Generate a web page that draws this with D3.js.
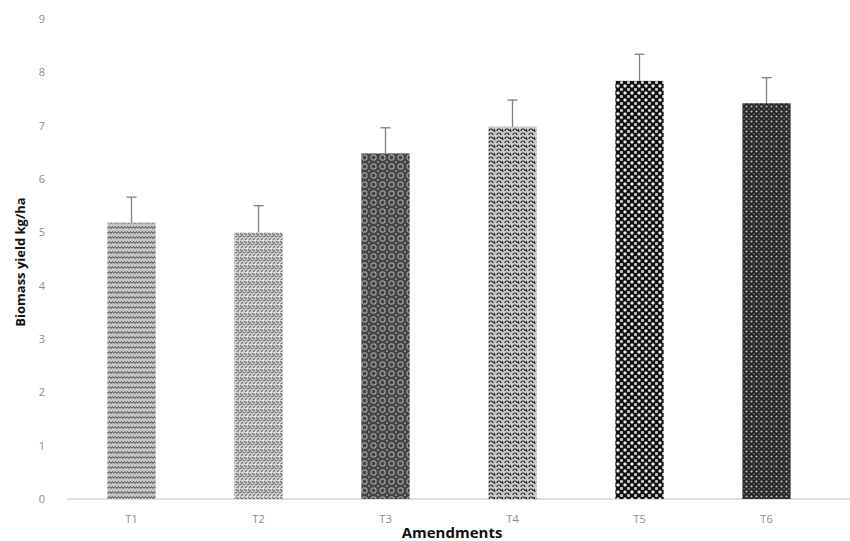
<!DOCTYPE html>
<html>
<head>
<meta charset="utf-8">
<script src="https://cdn.jsdelivr.net/npm/d3@7"></script>
<style>
  body { margin: 0; background: #fff; }
  text { font-family: "Open Sans", "Liberation Sans", sans-serif; }
</style>
</head>
<body>
<div id="chart"></div>
<script>
// Data
const categories = ["T1", "T2", "T3", "T4", "T5", "T6"];
const values = [5.18, 5.0, 6.48, 6.98, 7.84, 7.42];
const errors = [0.48, 0.5, 0.48, 0.5, 0.5, 0.48];
const yTicks = [0, 1, 2, 3, 4, 5, 6, 7, 8, 9];

const chartWidth = 850;
const chartHeight = 541;
const plotLeft = 68, plotRight = 830, plotTop = 19, plotBottom = 499;

const svg = d3.select("#chart")
    .append("svg")
    .attr("width", chartWidth)
    .attr("height", chartHeight);

// fill patterns, one per bar
const defs = svg.append("defs");

// T1: grey waves
let p = defs.append("pattern").attr("id", "p0").attr("patternUnits", "userSpaceOnUse")
    .attr("width", 6).attr("height", 5);
p.append("rect").attr("width", 6).attr("height", 5).attr("fill", "#c4c4c4");
p.append("path").attr("d", "M0,3.5 L1.5,1.5 L3,3.5 L4.5,1.5 L6,3.5").attr("fill", "none")
    .attr("stroke", "#4a4a4a").attr("stroke-width", 1);

// T2: diagonal shingles
p = defs.append("pattern").attr("id", "p1").attr("patternUnits", "userSpaceOnUse")
    .attr("width", 8).attr("height", 8);
p.append("rect").attr("width", 8).attr("height", 8).attr("fill", "#dcdcdc");
p.append("path").attr("d", "M0,1 L4,5 M4,1 L8,5 M0,5 L3,2 M4,5 L7,2 M0,9 L3,6 M4,9 L7,6")
    .attr("stroke", "#6e6e6e").attr("stroke-width", 1.2).attr("fill", "none");

// T3: dark with rings
p = defs.append("pattern").attr("id", "p2").attr("patternUnits", "userSpaceOnUse")
    .attr("width", 9).attr("height", 9);
p.append("rect").attr("width", 9).attr("height", 9).attr("fill", "#444");
p.append("circle").attr("cx", 4.5).attr("cy", 4.5).attr("r", 2.6).attr("fill", "none")
    .attr("stroke", "#a0a0a0").attr("stroke-width", 1.2);
p.append("circle").attr("cx", 0).attr("cy", 0).attr("r", 1).attr("fill", "#999");
p.append("circle").attr("cx", 9).attr("cy", 9).attr("r", 1).attr("fill", "#999");
p.append("circle").attr("cx", 0).attr("cy", 9).attr("r", 1).attr("fill", "#999");
p.append("circle").attr("cx", 9).attr("cy", 0).attr("r", 1).attr("fill", "#999");

// T4: light with dark curls
p = defs.append("pattern").attr("id", "p3").attr("patternUnits", "userSpaceOnUse")
    .attr("width", 8).attr("height", 8);
p.append("rect").attr("width", 8).attr("height", 8).attr("fill", "#c8c8c8");
p.append("path").attr("d", "M1,3 A2,2 0 0 1 5,3 M5,7 A2,2 0 0 0 1,7 M6,1 L7,4")
    .attr("stroke", "#222").attr("stroke-width", 1.2).attr("fill", "none");

// T5: checkerboard of white dots
p = defs.append("pattern").attr("id", "p4").attr("patternUnits", "userSpaceOnUse")
    .attr("width", 7).attr("height", 7);
p.append("rect").attr("width", 7).attr("height", 7).attr("fill", "#111");
p.append("rect").attr("x", 0.5).attr("y", 0.5).attr("width", 3).attr("height", 3)
    .attr("rx", 1).attr("fill", "#f0f0f0");
p.append("rect").attr("x", 4).attr("y", 4).attr("width", 3).attr("height", 3)
    .attr("rx", 1).attr("fill", "#c4c4c4");

// T6: dark with small white dots
p = defs.append("pattern").attr("id", "p5").attr("patternUnits", "userSpaceOnUse")
    .attr("width", 5).attr("height", 5);
p.append("rect").attr("width", 5).attr("height", 5).attr("fill", "#262626");
p.append("circle").attr("cx", 1.5).attr("cy", 1.5).attr("r", 1.1).attr("fill", "#bdbdbd");
p.append("circle").attr("cx", 4).attr("cy", 4).attr("r", 0.8).attr("fill", "#8a8a8a");

const xScale = d3.scaleBand()
    .domain(categories)
    .range([plotLeft, plotRight])
    .paddingInner(0.62)
    .paddingOuter(0.31);

const yScale = d3.scaleLinear()
    .domain([0, 9])
    .range([plotBottom, plotTop]);

// y axis: labels only
const yAxis = d3.axisLeft(yScale)
    .tickValues(yTicks)
    .tickSize(0)
    .tickPadding(0);

const gy = svg.append("g")
    .attr("transform", "translate(45,0)")
    .call(yAxis);
gy.select(".domain").remove();
gy.selectAll("text")
    .attr("fill", "#8c8c8c")
    .style("font-size", "11px");

// x axis
const xAxis = d3.axisBottom(xScale)
    .tickSize(0)
    .tickPadding(16);

const gx = svg.append("g")
    .attr("transform", "translate(0," + plotBottom + ")")
    .call(xAxis);
gx.select(".domain").remove();
gx.append("line")
    .attr("x1", plotLeft - 1)
    .attr("x2", chartWidth)
    .attr("stroke", "#bfbfbf")
    .attr("stroke-width", 1.2);
gx.selectAll("text")
    .attr("fill", "#8c8c8c")
    .style("font-size", "11px");

// bars
svg.selectAll(".bar")
    .data(values)
    .enter()
    .append("rect")
    .attr("class", "bar")
    .attr("x", (d, i) => xScale(categories[i]))
    .attr("y", d => yScale(d))
    .attr("width", xScale.bandwidth())
    .attr("height", d => plotBottom - yScale(d))
    .attr("fill", (d, i) => "url(#p" + i + ")");

// error bars (upper only)
const err = svg.selectAll(".err")
    .data(values)
    .enter()
    .append("g")
    .attr("class", "err")
    .attr("stroke", "#7f7f7f")
    .attr("stroke-width", 1.3);

err.append("line")
    .attr("x1", (d, i) => xScale(categories[i]) + xScale.bandwidth() / 2)
    .attr("x2", (d, i) => xScale(categories[i]) + xScale.bandwidth() / 2)
    .attr("y1", d => yScale(d))
    .attr("y2", (d, i) => yScale(d + errors[i]));

err.append("line")
    .attr("x1", (d, i) => xScale(categories[i]) + xScale.bandwidth() / 2 - 5)
    .attr("x2", (d, i) => xScale(categories[i]) + xScale.bandwidth() / 2 + 5)
    .attr("y1", (d, i) => yScale(d + errors[i]))
    .attr("y2", (d, i) => yScale(d + errors[i]));

// axis titles
svg.append("text")
    .attr("x", 452)
    .attr("y", 538)
    .attr("text-anchor", "middle")
    .style("font-size", "15px")
    .style("font-weight", "bold")
    .attr("fill", "#111")
    .text("Amendments");

svg.append("text")
    .attr("transform", "translate(25,262) rotate(-90)")
    .attr("text-anchor", "middle")
    .style("font-size", "13px")
    .style("font-weight", "bold")
    .attr("fill", "#111")
    .text("Biomass yield kg/ha");
</script>
</body>
</html>
